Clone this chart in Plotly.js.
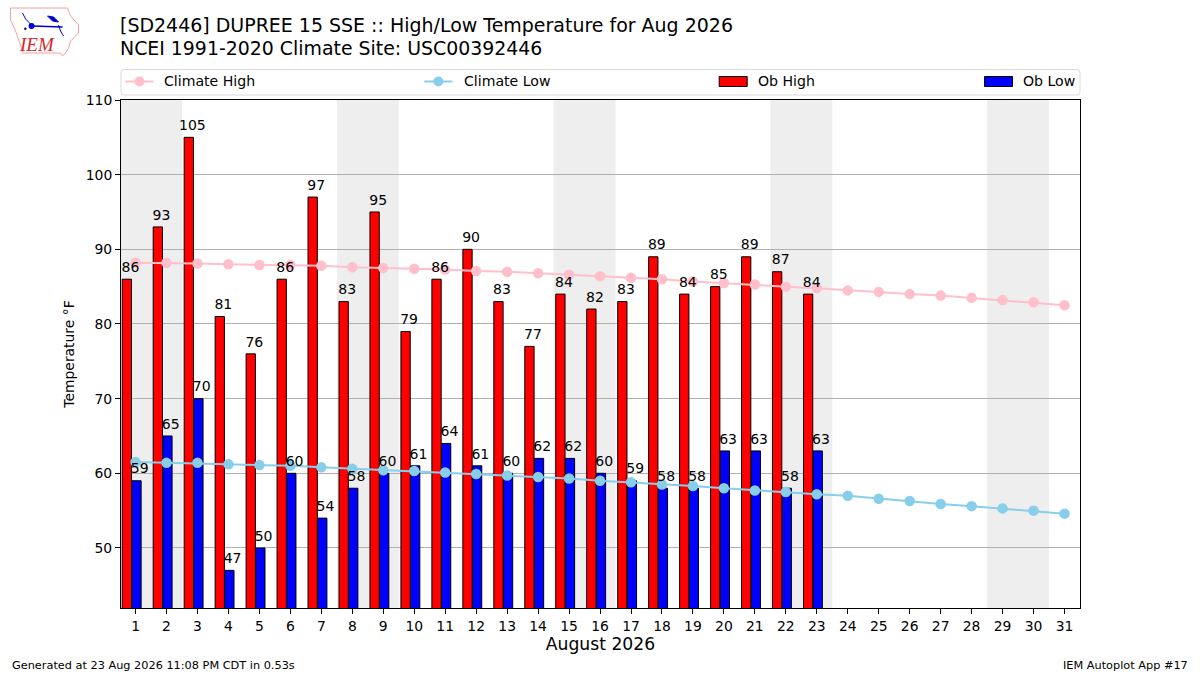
<!DOCTYPE html>
<html>
<head>
<meta charset="utf-8">
<script src="https://cdn.plot.ly/plotly-3.0.1.min.js"></script>
<style>html,body{margin:0;padding:0;background:#fff}</style>
</head>
<body>
<div id="chart" style="width:1200px;height:675px"></div>
<script>
const days = Array.from({ length: 31 }, (_, i) => i + 1);
const obDays = days.slice(0, 23);
const obHigh = [86, 93, 105, 81, 76, 86, 97, 83, 95, 79, 86, 90, 83, 77, 84, 82, 83, 89, 84, 85, 89, 87, 84];
const obLow = [59, 65, 70, 47, 50, 60, 54, 58, 60, 61, 64, 61, 60, 62, 62, 60, 59, 58, 58, 63, 63, 58, 63];
const climateHigh = [88.2, 88.2, 88.1, 88.0, 87.9, 87.9, 87.8, 87.6, 87.5, 87.4, 87.3, 87.1, 87.0, 86.8, 86.6, 86.4,
    86.2, 86.0, 85.7, 85.5, 85.3, 85.0, 84.8, 84.5, 84.3, 84.0, 83.8, 83.5, 83.2, 82.9, 82.5];
const climateLow = [61.5, 61.4, 61.4, 61.2, 61.1, 61.0, 60.8, 60.6, 60.4, 60.3, 60.1, 59.9, 59.7, 59.5, 59.3, 59.0,
    58.8, 58.5, 58.3, 58.0, 57.7, 57.5, 57.2, 57.0, 56.6, 56.3, 55.9, 55.6, 55.3, 55.0, 54.6];
const weekends = [[0.5, 2.5], [7.5, 9.5], [14.5, 16.5], [21.5, 23.5], [28.5, 30.5]];
const yTicks = [50, 60, 70, 80, 90, 100, 110];

const FONT = 'DejaVu Sans, sans-serif';
const W = 1200, H = 675;
const margin = { l: 120.5, r: 120, t: 100, b: 67 };
const px = x => (x - margin.l) / (W - margin.l - margin.r);
const py = y => 1 - (y - margin.t) / (H - margin.t - margin.b);

// paper-referenced shape from pixel positions
const pxShape = (extra) => ({ xref: 'paper', yref: 'paper', ...extra });
const pxPath = (pts, close) => 'M' + pts.map(p => `${px(p[0])},${py(p[1])}`).join('L') + (close ? 'Z' : '');
const pxText = (x, y, text, size, color, anchor, family, style) => ({
    xref: 'paper', yref: 'paper', x: px(x), y: py(y), text, showarrow: false,
    xanchor: anchor || 'left', yanchor: 'middle',
    font: { family: family || FONT, size, color: color || '#000', style: style || 'normal' }
});

const bands = weekends.map(w => ({
    type: 'rect', layer: 'below', xref: 'x', yref: 'paper', x0: w[0], x1: w[1], y0: 0, y1: 1,
    fillcolor: '#eeeeee', line: { width: 0 }
}));

// rounded legend frame
const roundBox = (x0, y0, x1, y1, r) => `M${px(x0 + r)},${py(y0)}L${px(x1 - r)},${py(y0)}Q${px(x1)},${py(y0)} ${px(x1)},${py(y0 + r)}` +
    `L${px(x1)},${py(y1 - r)}Q${px(x1)},${py(y1)} ${px(x1 - r)},${py(y1)}L${px(x0 + r)},${py(y1)}Q${px(x0)},${py(y1)} ${px(x0)},${py(y1 - r)}` +
    `L${px(x0)},${py(y0 + r)}Q${px(x0)},${py(y0)} ${px(x0 + r)},${py(y0)}Z`;

// legend box and handles, matplotlib style expanded row
const legendShapes = [
    pxShape({ type: 'path', path: roundBox(120.5, 69.5, 1080, 95, 3), fillcolor: '#fff', line: { color: '#d9d9d9', width: 1 } }),
    pxShape({ type: 'line', x0: px(125), x1: px(153), y0: py(81.5), y1: py(81.5), line: { color: 'pink', width: 2 } }),
    pxShape({ type: 'circle', x0: px(134), x1: px(144), y0: py(86.5), y1: py(76.5), fillcolor: 'pink', line: { width: 0 } }),
    pxShape({ type: 'line', x0: px(424), x1: px(452), y0: py(81.5), y1: py(81.5), line: { color: 'skyblue', width: 2 } }),
    pxShape({ type: 'circle', x0: px(433), x1: px(443), y0: py(86.5), y1: py(76.5), fillcolor: 'skyblue', line: { width: 0 } }),
    pxShape({ type: 'rect', x0: px(719), x1: px(747), y0: py(86.5), y1: py(76.5), fillcolor: 'red', line: { color: '#000', width: 1 } }),
    pxShape({ type: 'rect', x0: px(984.5), x1: px(1012.5), y0: py(86.5), y1: py(76.5), fillcolor: 'blue', line: { color: '#000', width: 1 } })
];

// IEM logo
const logoShapes = [
    pxShape({ type: 'path', line: { color: '#f4a0a0', width: 1 }, path: pxPath([[10, 8], [67, 8], [70, 16], [78, 25], [78, 33], [70, 41], [68, 48], [65, 53], [62, 56], [60, 53], [22, 53], [20, 45], [15, 31], [10, 20]], true) }),
    pxShape({ type: 'path', line: { color: '#0000cc', width: 1.5 }, path: pxPath([[32, 26], [62, 27]]) }),
    pxShape({ type: 'path', line: { color: '#0000cc', width: 1 }, path: pxPath([[22, 13], [25, 19], [31, 25]]) }),
    pxShape({ type: 'path', line: { color: '#0000cc', width: 1 }, path: pxPath([[58, 25], [60, 31], [63, 36]]) }),
    pxShape({ type: 'path', line: { color: '#0000cc', width: 1 }, fillcolor: '#0000cc', path: pxPath([[47, 16], [53, 17], [58, 22], [52, 21]], true) }),
    pxShape({ type: 'circle', x0: px(28), x1: px(34), y0: py(29), y1: py(23), fillcolor: '#0000cc', line: { width: 0 } }),
    pxShape({ type: 'circle', x0: px(23.5), x1: px(26), y0: py(30), y1: py(27.5), fillcolor: '#0000cc', line: { width: 0 } })
];

// transparent marker pushes the value label up off the bar top
const labelTrace = (x, y) => ({
    type: 'scatter', mode: 'markers+text', x, y, text: y.map(String), textposition: 'top center',
    marker: { size: 4.5, color: 'rgba(0,0,0,0)' },
    textfont: { family: FONT, size: 14, color: '#000' }, cliponaxis: false, showlegend: false, hoverinfo: 'skip'
});

const data = [
    { type: 'bar', name: 'Ob High', x: obDays.map(d => d - 0.28), y: obHigh, width: 0.3, marker: { color: 'red', line: { color: '#000', width: 1 } } },
    { type: 'bar', name: 'Ob Low', x: obDays.map(d => d + 0.03), y: obLow, width: 0.3, marker: { color: 'blue', line: { color: '#000', width: 1 } } },
    { type: 'scatter', mode: 'lines+markers', name: 'Climate High', x: days, y: climateHigh, line: { color: 'pink', width: 2 }, marker: { color: 'pink', size: 10.5 } },
    { type: 'scatter', mode: 'lines+markers', name: 'Climate Low', x: days, y: climateLow, line: { color: 'skyblue', width: 2 }, marker: { color: 'skyblue', size: 10.5 } },
    labelTrace(obDays.map(d => d - 0.165), obHigh),
    labelTrace(obDays.map(d => d + 0.135), obLow)
];

const layout = {
    width: W, height: H, margin: { ...margin, pad: 0 }, paper_bgcolor: '#fff', plot_bgcolor: '#fff',
    font: { family: FONT, color: '#000', size: 13.9 }, showlegend: false, barmode: 'overlay',
    xaxis: {
        range: [0.53, 31.5], tickvals: days, ticktext: days.map(String), ticks: 'outside', ticklen: 5, tickwidth: 1,
        tickcolor: '#000', showgrid: false, zeroline: false, showline: true, linecolor: '#000', linewidth: 1, mirror: true,
        tickfont: { size: 13.9 }, title: { text: 'August 2026', font: { size: 17.2 }, standoff: 2 }
    },
    yaxis: {
        range: [41.96, 110], tickvals: yTicks, ticks: 'outside', ticklen: 5, tickwidth: 1, tickcolor: '#000',
        showgrid: true, gridcolor: '#b0b0b0', gridwidth: 1, zeroline: false, showline: true, linecolor: '#000', linewidth: 1, mirror: true,
        tickfont: { size: 13.9 }, title: { text: 'Temperature °F', font: { size: 13.9 }, standoff: 7 }
    },
    shapes: [...bands, ...legendShapes, ...logoShapes],
    annotations: [
        pxText(117, 25, '[SD2446] DUPREE 15 SSE :: High/Low Temperature for Aug 2026', 18.98),
        pxText(117, 48, 'NCEI 1991-2020 Climate Site: USC00392446', 18.9),
        pxText(162, 80.5, 'Climate High', 14.1),
        pxText(462, 80.5, 'Climate Low', 14.1),
        pxText(756, 80.5, 'Ob High', 14.1),
        pxText(1020.5, 80.5, 'Ob Low', 14.1),
        pxText(9, 665, 'Generated at 23 Aug 2026 11:08 PM CDT in 0.53s', 11.3),
        pxText(1190, 665, 'IEM Autoplot App #17', 11.3, '#000', 'right'),
        pxText(16, 44.5, 'IEM', 19, '#d62728', 'left', 'Liberation Serif', 'italic')
    ]
};

Plotly.newPlot('chart', data, layout, { displayModeBar: false, responsive: false });
</script>
</body>
</html>
